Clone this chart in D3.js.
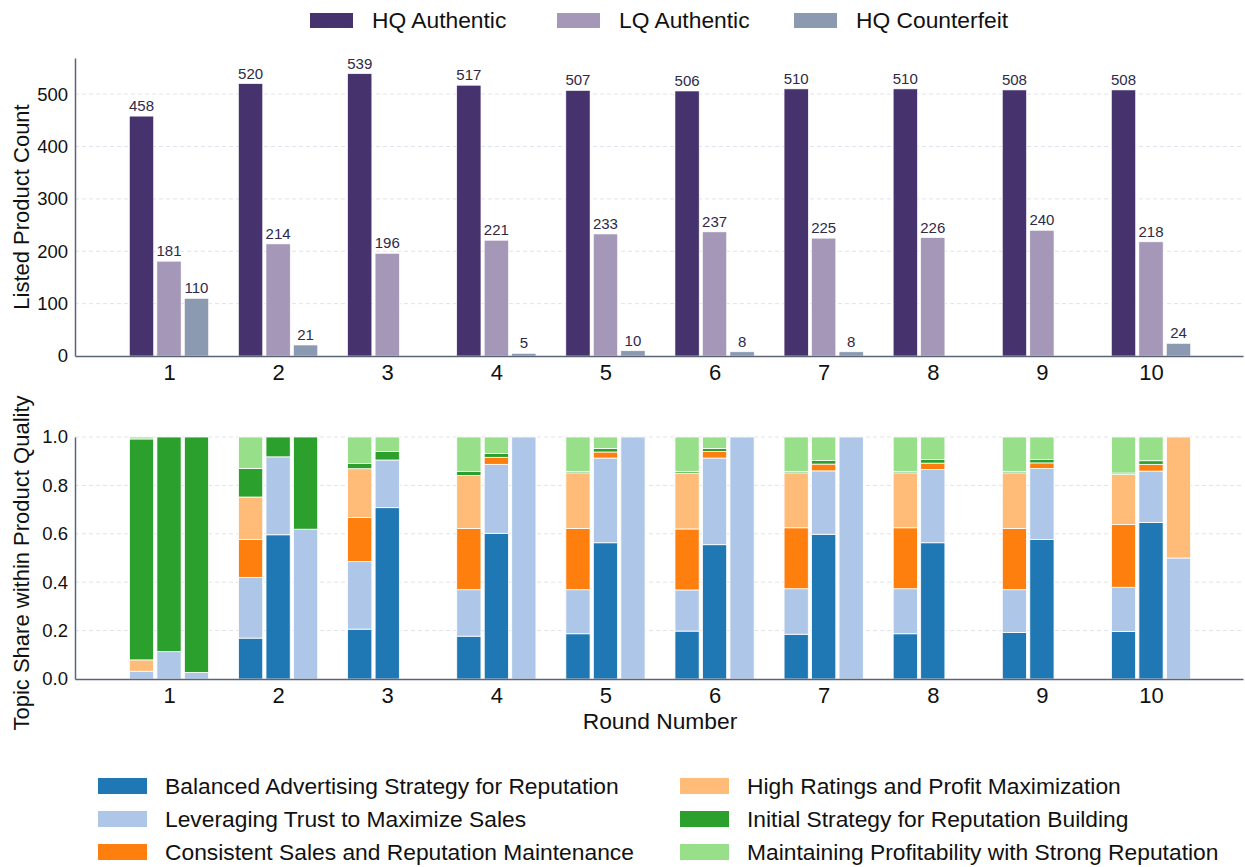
<!DOCTYPE html>
<html>
<head>
<meta charset="utf-8">
<script src="https://cdn.jsdelivr.net/npm/d3@7"></script>
<style>
  html, body { margin: 0; padding: 0; background: #fff; }
  svg { display: block; font-family: "Liberation Sans", Arial, sans-serif; }
</style>
</head>
<body>
<svg id="chart" width="1245" height="867"></svg>
<script>
// ---------- DATA ----------
const rounds = [1, 2, 3, 4, 5, 6, 7, 8, 9, 10];
const qualities = ["HQ Authentic", "LQ Authentic", "HQ Counterfeit"];
const hqAuthentic = [458, 520, 539, 517, 507, 506, 510, 510, 508, 508];
const lqAuthentic = [181, 214, 196, 221, 233, 237, 225, 226, 240, 218];
const hqCounterfeit = [110, 21, 0, 5, 10, 8, 8, 0, 0, 24];

const topics = [
  "Balanced Advertising Strategy for Reputation",
  "Leveraging Trust to Maximize Sales",
  "Consistent Sales and Reputation Maintenance",
  "High Ratings and Profit Maximization",
  "Initial Strategy for Reputation Building",
  "Maintaining Profitability with Strong Reputation"
];
// shares per round: [Balanced, Leveraging, Consistent, HighRatings, Initial, Maintaining]
const hqShares = [
  [0.000, 0.032, 0.000, 0.047, 0.913, 0.008],
  [0.169, 0.251, 0.157, 0.175, 0.118, 0.130],
  [0.206, 0.279, 0.183, 0.201, 0.022, 0.109],
  [0.177, 0.192, 0.253, 0.219, 0.017, 0.142],
  [0.187, 0.182, 0.253, 0.230, 0.006, 0.142],
  [0.198, 0.170, 0.252, 0.231, 0.007, 0.142],
  [0.185, 0.188, 0.252, 0.227, 0.006, 0.142],
  [0.187, 0.186, 0.252, 0.227, 0.006, 0.142],
  [0.192, 0.177, 0.253, 0.230, 0.006, 0.142],
  [0.196, 0.183, 0.259, 0.207, 0.006, 0.149]
];
const lqShares = [
  [0.000, 0.113, 0.000, 0.000, 0.887, 0.000],
  [0.596, 0.322, 0.000, 0.000, 0.082, 0.000],
  [0.708, 0.197, 0.000, 0.000, 0.035, 0.060],
  [0.602, 0.285, 0.029, 0.000, 0.016, 0.068],
  [0.563, 0.350, 0.025, 0.000, 0.015, 0.047],
  [0.555, 0.358, 0.027, 0.000, 0.013, 0.047],
  [0.598, 0.262, 0.028, 0.000, 0.015, 0.097],
  [0.563, 0.303, 0.026, 0.000, 0.015, 0.093],
  [0.577, 0.293, 0.023, 0.000, 0.014, 0.093],
  [0.647, 0.212, 0.028, 0.000, 0.015, 0.098]
];
const cfShares = [
  [0.000, 0.027, 0.000, 0.000, 0.973, 0.000],
  [0.000, 0.619, 0.000, 0.000, 0.381, 0.000],
  [0, 0, 0, 0, 0, 0],
  [0.000, 1.000, 0.000, 0.000, 0.000, 0.000],
  [0.000, 1.000, 0.000, 0.000, 0.000, 0.000],
  [0.000, 1.000, 0.000, 0.000, 0.000, 0.000],
  [0.000, 1.000, 0.000, 0.000, 0.000, 0.000],
  [0, 0, 0, 0, 0, 0],
  [0, 0, 0, 0, 0, 0],
  [0.000, 0.500, 0.000, 0.500, 0.000, 0.000]
];
const countTicks = [0, 100, 200, 300, 400, 500];
const shareTicks = [0.0, 0.2, 0.4, 0.6, 0.8, 1.0];

// ---------- STYLE ----------
const qualityColors = ["#46326d", "#a597b8", "#8b9ab0"];
const topicColors = ["#1f77b4", "#aec7e8", "#ff7f0e", "#ffbb78", "#2ca02c", "#98df8a"];
const spineColor = "#5b6477";
const gridColor = "#e2e2ec";
const font = '"Liberation Sans", Arial, sans-serif';
const labelSize = 22.8;

const svg = d3.select("#chart");
const left = 75, right = 1243;
const x = d3.scaleLinear().domain([0.1385, 10.843]).range([left, right]);
const offset = 0.252, barW = 0.222;
const pxW = x(barW) - x(0);

const yTop = d3.scaleLinear().domain([0, 569]).range([356, 58]);
const yBot = d3.scaleLinear().domain([0, 1]).range([679, 437]);

function grid(g, y, ticks) {
  g.selectAll("line.grid").data(ticks.filter(t => t > 0)).join("line")
    .attr("x1", left).attr("x2", right)
    .attr("y1", d => y(d)).attr("y2", d => y(d))
    .attr("stroke", gridColor).attr("stroke-width", 1)
    .attr("stroke-dasharray", "4,3");
}
function axes(y, ticks, fmt) {
  const ya = d3.axisLeft(y).tickValues(ticks).tickSize(0).tickPadding(7).tickFormat(fmt);
  const g = svg.append("g").attr("transform", `translate(${left},0)`).call(ya);
  g.select(".domain").attr("stroke", spineColor).attr("stroke-width", 1.5);
  g.selectAll("text").attr("font-size", 18.5).attr("font-family", font).attr("fill", "#111");
  const xa = d3.axisBottom(x).tickValues(rounds).tickSize(0).tickPadding(8).tickFormat(d3.format("d"));
  const gx = svg.append("g").attr("transform", `translate(0,${y.range()[0]})`).call(xa);
  gx.select(".domain").attr("stroke", spineColor).attr("stroke-width", 1.5);
  gx.selectAll("text").attr("font-size", 22).attr("font-family", font).attr("fill", "#111");
}

// ---------- TOP CHART ----------
const gTop = svg.append("g");
grid(gTop, yTop, countTicks);
const counts = [hqAuthentic, lqAuthentic, hqCounterfeit];
counts.forEach((arr, qi) => {
  const data = rounds.map((r, i) => ({ r, v: arr[i] })).filter(d => d.v > 0);
  gTop.selectAll(null).data(data).join("rect")
    .attr("x", d => x(d.r + (qi - 1) * offset) - pxW / 2)
    .attr("width", pxW)
    .attr("y", d => yTop(d.v))
    .attr("height", d => yTop(0) - yTop(d.v))
    .attr("fill", qualityColors[qi])
    .attr("stroke", "#fff").attr("stroke-width", 0.6);
  gTop.selectAll(null).data(data).join("text")
    .attr("x", d => x(d.r + (qi - 1) * offset))
    .attr("y", d => yTop(d.v) - 5)
    .attr("text-anchor", "middle")
    .attr("font-size", 15).attr("font-family", font)
    .attr("fill", "#2e2a48")
    .text(d => d.v);
});
axes(yTop, countTicks, d3.format("d"));

// ---------- BOTTOM CHART ----------
const gBot = svg.append("g");
grid(gBot, yBot, shareTicks);
const shares = [hqShares, lqShares, cfShares];
shares.forEach((sh, qi) => {
  rounds.forEach((r, i) => {
    let acc = 0;
    const segs = sh[i].map((v, ti) => { const s = { r, ti, y0: acc, y1: acc + v }; acc += v; return s; })
      .filter(s => s.y1 - s.y0 > 0);
    gBot.selectAll(null).data(segs).join("rect")
      .attr("x", d => x(d.r + (qi - 1) * offset) - pxW / 2)
      .attr("width", pxW)
      .attr("y", d => yBot(d.y1))
      .attr("height", d => yBot(d.y0) - yBot(d.y1))
      .attr("fill", d => topicColors[d.ti])
      .attr("stroke", "#fff").attr("stroke-width", 0.8);
  });
});
axes(yBot, shareTicks, d3.format(".1f"));

// ---------- AXIS LABELS ----------
svg.append("text").attr("transform", `translate(29,${(58 + 356) / 2}) rotate(-90)`)
  .attr("text-anchor", "middle").attr("font-size", 22).attr("font-family", font).attr("fill", "#111")
  .text("Listed Product Count");
svg.append("text").attr("transform", `translate(29,${(437 + 679) / 2 + 5}) rotate(-90)`)
  .attr("text-anchor", "middle").attr("font-size", 22).attr("font-family", font).attr("fill", "#111")
  .text("Topic Share within Product Quality");
svg.append("text").attr("x", 660).attr("y", 729)
  .attr("text-anchor", "middle").attr("font-size", labelSize).attr("font-family", font).attr("fill", "#111")
  .text("Round Number");

// ---------- LEGENDS ----------
const topLegX = [310, 557, 794];
qualities.forEach((q, i) => {
  svg.append("rect").attr("x", topLegX[i]).attr("y", 13).attr("width", 43).attr("height", 15)
    .attr("fill", qualityColors[i]);
  svg.append("text").attr("x", topLegX[i] + 62).attr("y", 28)
    .attr("font-size", labelSize).attr("font-family", font).attr("fill", "#111").text(q);
});
const botLegX = [98, 680], botLegY = [786, 819, 852];
topics.forEach((t, i) => {
  const col = Math.floor(i / 3), row = i % 3;
  svg.append("rect").attr("x", botLegX[col]).attr("y", botLegY[row] - 8).attr("width", 49).attr("height", 16)
    .attr("fill", topicColors[i]);
  svg.append("text").attr("x", botLegX[col] + 67).attr("y", botLegY[row] + 8)
    .attr("font-size", labelSize).attr("font-family", font).attr("fill", "#111").text(t);
});
</script>
</body>
</html>
